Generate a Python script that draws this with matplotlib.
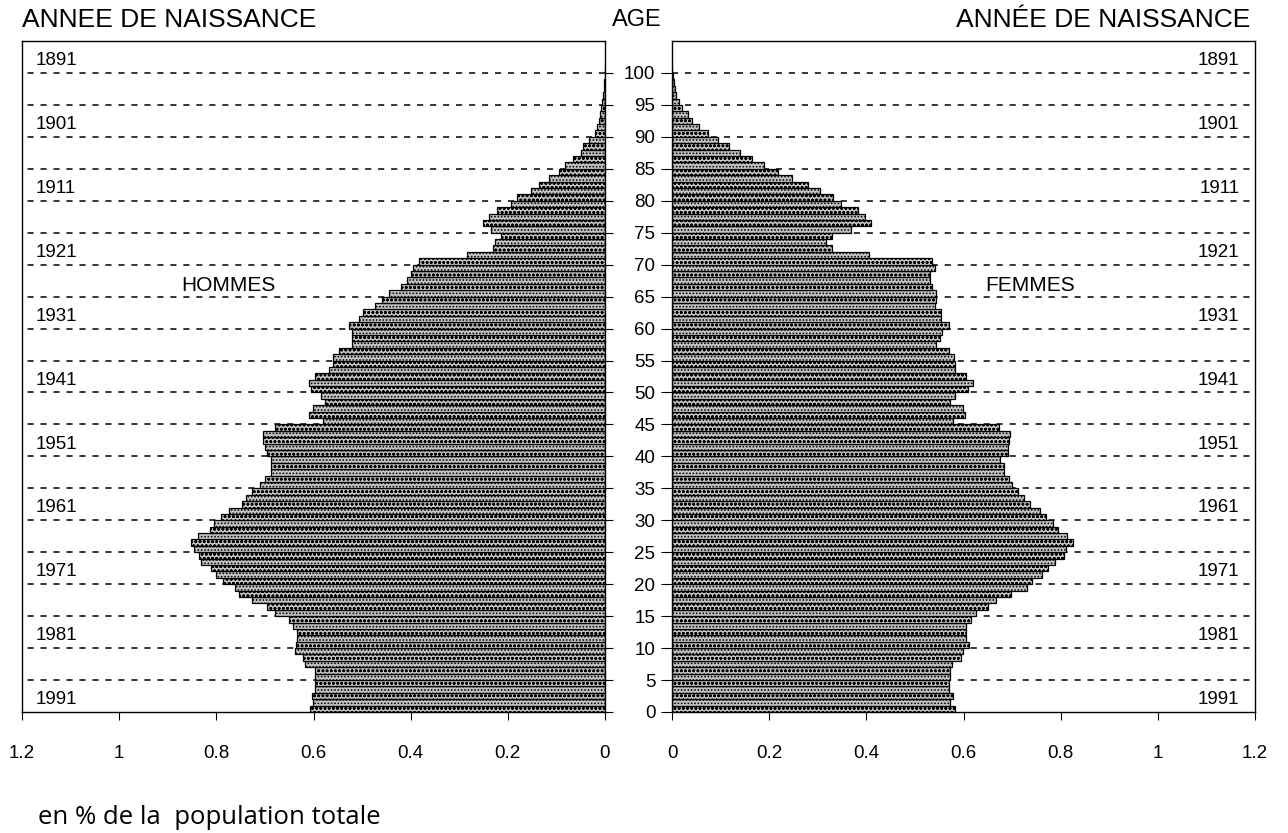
import matplotlib
matplotlib.use("Agg")
import matplotlib.pyplot as plt
import numpy as np

plt.rcParams['font.family'] = ['Liberation Sans', 'DejaVu Sans']
plt.rcParams['hatch.linewidth'] = 0.8

# age 0 .. 100, en % de la population totale
ages = np.arange(101)
hommes = [0.607, 0.601, 0.603, 0.597, 0.597, 0.597, 0.597, 0.618, 0.622, 0.638,
          0.637, 0.634, 0.633, 0.642, 0.651, 0.680, 0.696, 0.727, 0.754, 0.762,
          0.787, 0.800, 0.812, 0.832, 0.836, 0.845, 0.853, 0.838, 0.813, 0.805,
          0.790, 0.774, 0.747, 0.739, 0.727, 0.710, 0.700, 0.688, 0.688, 0.688,
          0.696, 0.700, 0.703, 0.703, 0.680, 0.581, 0.610, 0.601, 0.577, 0.585,
          0.605, 0.610, 0.597, 0.568, 0.560, 0.560, 0.548, 0.521, 0.521, 0.521,
          0.527, 0.507, 0.498, 0.474, 0.459, 0.445, 0.420, 0.408, 0.400, 0.395,
          0.383, 0.284, 0.230, 0.227, 0.214, 0.235, 0.251, 0.239, 0.222, 0.194,
          0.181, 0.152, 0.136, 0.115, 0.095, 0.082, 0.066, 0.049, 0.045, 0.033,
          0.021, 0.016, 0.012, 0.010, 0.008, 0.006, 0.004, 0.003, 0.002, 0.001,
          0.001]
femmes = [0.583, 0.573, 0.579, 0.571, 0.571, 0.573, 0.573, 0.576, 0.594, 0.599,
          0.612, 0.605, 0.605, 0.606, 0.615, 0.626, 0.650, 0.666, 0.698, 0.730,
          0.741, 0.761, 0.773, 0.788, 0.807, 0.811, 0.825, 0.813, 0.795, 0.784,
          0.770, 0.757, 0.736, 0.725, 0.713, 0.700, 0.693, 0.683, 0.683, 0.675,
          0.692, 0.692, 0.693, 0.696, 0.673, 0.578, 0.603, 0.599, 0.573, 0.583,
          0.610, 0.619, 0.605, 0.583, 0.583, 0.580, 0.571, 0.544, 0.551, 0.555,
          0.571, 0.553, 0.553, 0.542, 0.544, 0.544, 0.535, 0.531, 0.531, 0.542,
          0.535, 0.406, 0.329, 0.316, 0.330, 0.368, 0.410, 0.398, 0.382, 0.348,
          0.332, 0.305, 0.279, 0.246, 0.219, 0.189, 0.165, 0.140, 0.117, 0.095,
          0.074, 0.056, 0.042, 0.032, 0.020, 0.015, 0.008, 0.006, 0.004, 0.002,
          0.001]

x_ticks = [0, 0.2, 0.4, 0.6, 0.8, 1, 1.2]
x_labels = ['0', '0.2', '0.4', '0.6', '0.8', '1', '1.2']
age_ticks = list(range(0, 101, 5))
annees = list(range(1891, 1992, 10))
annee_ages = [1991 - a for a in annees]

fig = plt.figure(figsize=(12.88, 8.33), dpi=100)
ax_h = fig.add_axes([22 / 1288, 1 - 712 / 833, 583 / 1288, 671 / 833])
ax_f = fig.add_axes([672 / 1288, 1 - 712 / 833, 583 / 1288, 671 / 833])

hatches = ['.....' if a % 2 else 'oooo' for a in ages]

for ax, vals in ((ax_h, hommes), (ax_f, femmes)):
    bars = ax.barh(ages, vals, height=1, align='edge', color='#c4c4c4',
                   edgecolor='black', linewidth=0.9, zorder=2)
    for b, h in zip(bars, hatches):
        b.set_hatch(h)
    # lignes pointillées tous les 5 ans
    ax.hlines(age_ticks[1:], 0, 1.2, colors='black', linestyles=(0, (4, 4.5)),
              linewidth=1.1, zorder=1)
    ax.set_ylim(0, 105)
    ax.set_xticks(x_ticks)
    ax.set_xticklabels(x_labels, fontsize=13.5)
    ax.tick_params(axis='x', direction='out', length=6, pad=18, width=0.8)
    for s in ax.spines.values():
        s.set_linewidth(1.0)

ax_h.set_xlim(1.2, 0)
ax_f.set_xlim(0, 1.2)

ax_h.yaxis.tick_right()
ax_h.set_yticks(age_ticks)
ax_h.set_yticklabels([])
ax_h.tick_params(axis='y', direction='out', length=6, width=0.8)

ax_f.set_yticks(age_ticks)
ax_f.set_yticklabels([str(a) for a in age_ticks], fontsize=13.5)
ax_f.tick_params(axis='y', direction='out', length=8, width=0.8, pad=4)

# années de naissance
for an, a in zip(annees, annee_ages):
    ax_h.text(1.172, a + 0.6, str(an), ha='left', va='bottom', fontsize=13.5)
    ax_f.text(1.168, a + 0.6, str(an), ha='right', va='bottom', fontsize=13.5)

ax_h.text(0.776, 66.8, 'HOMMES', ha='center', va='center', fontsize=15)
ax_f.text(0.737, 66.8, 'FEMMES', ha='center', va='center', fontsize=15)

fig.text(22 / 1288, 1 - 20 / 833, 'ANNEE DE NAISSANCE', ha='left', va='center', fontsize=19)
fig.text(1250 / 1288, 1 - 20 / 833, 'ANNÉE DE NAISSANCE', ha='right', va='center', fontsize=19)
fig.text(637 / 1288, 1 - 20 / 833, 'AGE', ha='center', va='center', fontsize=17)
fig.text(38 / 1288, 1 - 818 / 833, 'en % de la  population totale', ha='left', va='center',
         fontsize=18.5, family=['Open Sans', 'DejaVu Sans'])

fig.savefig('out.png', dpi=100)
